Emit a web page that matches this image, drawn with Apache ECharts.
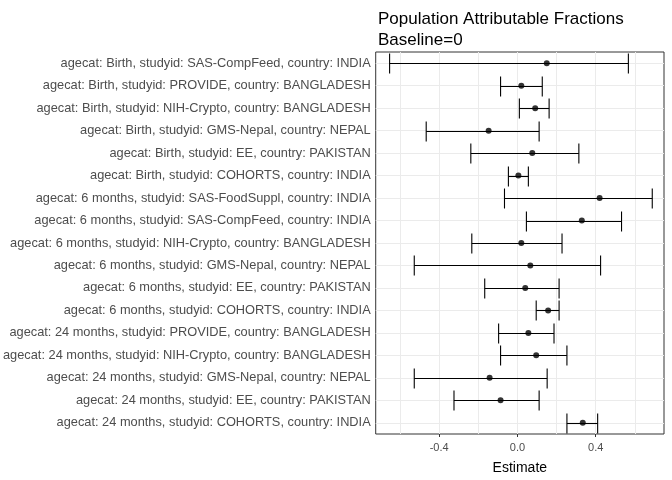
<!DOCTYPE html>
<html><head><meta charset="utf-8">
<script src="https://cdn.jsdelivr.net/npm/echarts@6/dist/echarts.min.js"></script>
<style>html,body{margin:0;padding:0;background:#fff}#c{width:672px;height:480px}</style>
</head><body><div id="c"></div>
<script>
const categories = [
"agecat: Birth, studyid: SAS-CompFeed, country: INDIA",
"agecat: Birth, studyid: PROVIDE, country: BANGLADESH",
"agecat: Birth, studyid: NIH-Crypto, country: BANGLADESH",
"agecat: Birth, studyid: GMS-Nepal, country: NEPAL",
"agecat: Birth, studyid: EE, country: PAKISTAN",
"agecat: Birth, studyid: COHORTS, country: INDIA",
"agecat: 6 months, studyid: SAS-FoodSuppl, country: INDIA",
"agecat: 6 months, studyid: SAS-CompFeed, country: INDIA",
"agecat: 6 months, studyid: NIH-Crypto, country: BANGLADESH",
"agecat: 6 months, studyid: GMS-Nepal, country: NEPAL",
"agecat: 6 months, studyid: EE, country: PAKISTAN",
"agecat: 6 months, studyid: COHORTS, country: INDIA",
"agecat: 24 months, studyid: PROVIDE, country: BANGLADESH",
"agecat: 24 months, studyid: NIH-Crypto, country: BANGLADESH",
"agecat: 24 months, studyid: GMS-Nepal, country: NEPAL",
"agecat: 24 months, studyid: EE, country: PAKISTAN",
"agecat: 24 months, studyid: COHORTS, country: INDIA"];
const estimate = [0.15,0.02,0.091,-0.147,0.076,0.005,0.42,0.329,0.02,0.066,0.04,0.157,0.056,0.096,-0.142,-0.086,0.334];
const lower = [-0.653,-0.086,0.01,-0.466,-0.238,-0.046,-0.066,0.046,-0.233,-0.527,-0.167,0.096,-0.096,-0.086,-0.527,-0.324,0.253];
const upper = [0.567,0.127,0.162,0.111,0.314,0.056,0.689,0.532,0.228,0.425,0.213,0.213,0.187,0.253,0.152,0.111,0.41];
const xTicks = [-0.4,0,0.4];
const xGrid = [-0.6,-0.4,-0.2,0,0.2,0.4,0.6];

const chart = echarts.init(document.getElementById('c'));
const grey = {color:'#ebebeb',width:1,type:'solid'};
chart.setOption({
  animation:false,
  title:{text:'Population Attributable Fractions\nBaseline=0',left:373,top:4,
    textStyle:{fontSize:17,fontWeight:'normal',color:'#000',lineHeight:21,fontFamily:'Liberation Sans'}},
  grid:{left:373,right:8,top:52,bottom:45,show:true,borderColor:'#333',borderWidth:1,backgroundColor:'#fff'},
  xAxis:{type:'value',min:-0.724,max:0.749,name:'Estimate',nameLocation:'middle',nameGap:27,
    nameTextStyle:{fontSize:14,color:'#000',fontFamily:'Liberation Sans'},
    axisLine:{show:false},splitLine:{show:false},
    axisTick:{show:true,customValues:xTicks,length:3,lineStyle:{color:'#333'}},
    axisLabel:{customValues:xTicks,color:'#4d4d4d',fontSize:11,fontFamily:'Liberation Sans',
      formatter:v=>v===0?'0.0':v.toFixed(1)}},
  yAxis:{type:'category',data:categories,inverse:true,
    axisLine:{show:false},splitLine:{show:false},
    axisTick:{show:true,alignWithLabel:true,length:3,lineStyle:{color:'#333'}},
    axisLabel:{color:'#4d4d4d',fontSize:12.8,fontFamily:'Liberation Sans',margin:5}},
  series:[
    {type:'line',data:[],silent:true,z:1,markLine:{symbol:'none',silent:true,z:1,label:{show:false},lineStyle:grey,
      data:xGrid.map(v=>({xAxis:v})).concat(categories.map(c=>({yAxis:c})))}},
    {type:'custom',z:5,data:categories.map((c,i)=>[lower[i],upper[i],i]),
      renderItem:(params,api)=>{
        const lo=api.coord([api.value(0),api.value(2)]);
        const hi=api.coord([api.value(1),api.value(2)]);
        const h=10, y=Math.round(lo[1])+0.5;
        const st={stroke:'#000',lineWidth:1.1};
        return {type:'group',children:[
          {type:'line',shape:{x1:lo[0],y1:y,x2:hi[0],y2:y},style:st},
          {type:'line',shape:{x1:lo[0],y1:y-h,x2:lo[0],y2:y+h},style:st},
          {type:'line',shape:{x1:hi[0],y1:y-h,x2:hi[0],y2:y+h},style:st}]};
      },encode:{x:[0,1],y:2}},
    {type:'scatter',z:6,data:categories.map((c,i)=>[estimate[i],i]),symbolSize:6,itemStyle:{color:'#000'}}
  ]
});
</script></body></html>
